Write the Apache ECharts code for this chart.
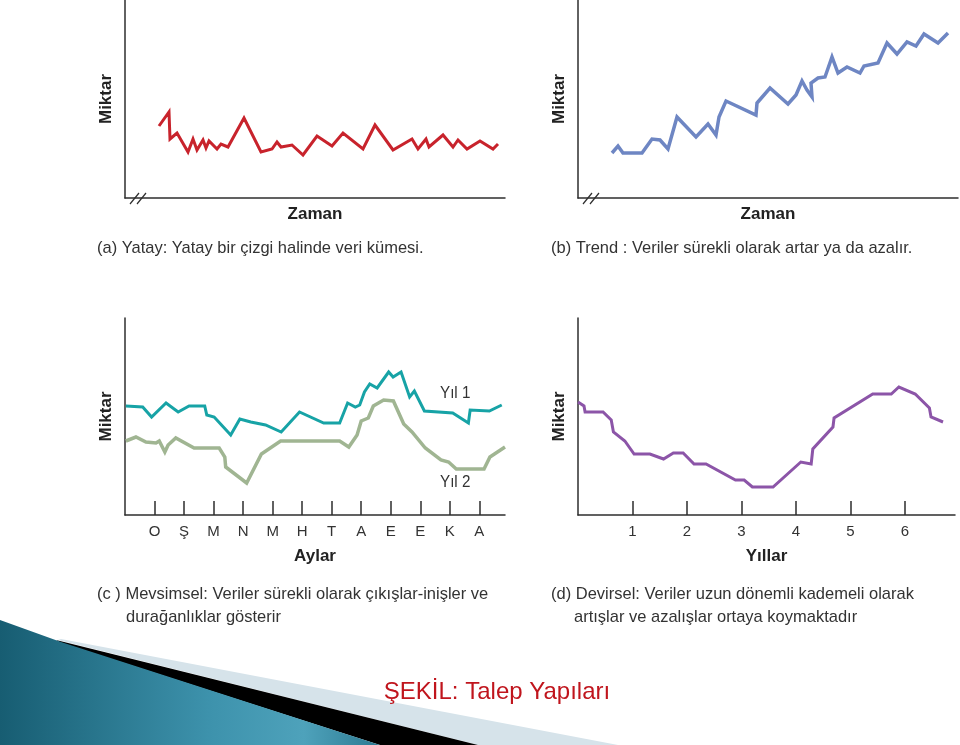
<!DOCTYPE html>
<html>
<head>
<meta charset="utf-8">
<script src="https://cdn.jsdelivr.net/npm/echarts@6/dist/echarts.min.js"></script>
<style>
html,body{margin:0;padding:0;background:#fff;}
#chart{width:960px;height:745px;}
</style>
</head>
<body>
<div id="chart"></div>
<script>
// ---- DATA ----
// (a) Yatay: [zaman, miktar]
const yatayData = [[34,72],[44,86],[45,59],[52,65],[63,46],[68,59],[72,48],[78,58],[81,50],[84,57],[92,49],[96,54],[103,51],[119,80],[136,46],[147,49],[152,56],[156,51],[167,53],[178,43],[192,62],[207,52],[218,65],[238,49],[250,73],[268,48],[287,59],[293,49],[301,59],[304,51],[318,63],[328,51],[333,58],[342,49],[355,57],[368,49],[373,54]];
// (b) Trend: [zaman, miktar]
const trendData = [[34,45],[40,52],[45,45],[64,45],[74,59],[82,58],[90,49],[99,81],[118,61],[130,74],[138,63],[141,81],[148,97],[178,83],[179,95],[192,110],[210,94],[218,103],[224,117],[229,108],[234,101],[233,115],[240,120],[247,121],[254,141],[260,125],[269,131],[282,125],[286,132],[300,135],[309,155],[319,144],[329,156],[338,152],[346,164],[360,155],[370,165]];
// (c) Mevsimsel: [ay, miktar]
const yil1Data = [[0.03,109],[0.60,108],[0.90,98],[1.39,112],[1.80,103],[2.17,109],[2.70,109],[2.77,100],[3.02,98],[3.58,80],[3.89,96],[4.26,93],[4.76,90],[5.29,83],[5.91,103],[6.73,92],[7.27,92],[7.54,112],[7.80,108],[7.95,110],[8.11,123],[8.29,131],[8.54,127],[8.93,143],[9.08,138],[9.35,143],[9.64,118],[9.80,124],[10.14,104],[11.10,102],[11.63,92],[11.69,105],[12.34,104],[12.76,110]];
const yil2Data = [[0.03,74],[0.37,78],[0.71,73],[1.05,72],[1.16,74],[1.35,63],[1.46,70],[1.72,77],[2.34,67],[3.19,67],[3.38,58],[3.41,48],[4.12,32],[4.62,61],[5.27,74],[7.27,74],[7.58,68],[7.86,80],[8.00,94],[8.24,97],[8.41,109],[8.76,115],[9.09,114],[9.44,91],[9.72,83],[10.17,67],[10.70,55],[10.96,53],[11.22,46],[12.16,46],[12.36,58],[12.87,68]];
const ayLabels = ['O','Ş','M','N','M','H','T','A','E','E','K','A'];
// (d) Devirsel: [yıl, miktar]
const devirselData = [[0.00,113],[0.11,109],[0.13,103],[0.46,103],[0.61,95],[0.65,83],[0.86,74],[1.03,61],[1.32,61],[1.57,56],[1.75,62],[1.93,62],[2.13,51],[2.35,51],[2.89,35],[3.05,35],[3.20,28],[3.58,28],[4.09,53],[4.28,51],[4.31,66],[4.68,88],[4.70,97],[5.41,121],[5.75,121],[5.89,128],[6.19,121],[6.45,107],[6.48,98],[6.70,93]];
const yilLabels = ['1','2','3','4','5','6'];

// ---- STYLES ----
const AXIS_COLOR = '#2e2e2e';
const TXT = '#333333';
const FONT = '"Liberation Sans", Arial, sans-serif';

function xAx(gi, max, name, gap, labels) {
  const ax = {
    gridIndex: gi, type: 'value', min: 0, max: max,
    splitLine: {show: false},
    axisLine: {show: true, onZero: false, lineStyle: {color: AXIS_COLOR, width: 1.5}},
    axisTick: {show: false},
    axisLabel: {show: false},
    name: name, nameLocation: 'middle', nameGap: gap,
    nameTextStyle: {fontFamily: FONT, fontWeight: 'bold', fontSize: 17, color: '#222'}
  };
  if (labels) {
    const vals = labels.map((_, i) => i + 1);
    ax.axisTick = {show: true, inside: true, length: 14, customValues: vals, lineStyle: {color: AXIS_COLOR, width: 1.5}};
    ax.axisLabel = {show: true, customValues: vals, margin: 9, fontFamily: FONT, fontSize: 15, color: TXT,
      formatter: v => labels[Math.round(v) - 1] || ''};
  }
  return ax;
}
function yAx(gi, max) {
  return {
    gridIndex: gi, type: 'value', min: 0, max: max,
    splitLine: {show: false},
    axisLine: {show: true, lineStyle: {color: AXIS_COLOR, width: 1.5}},
    axisTick: {show: false}, axisLabel: {show: false},
    name: 'Miktar', nameLocation: 'middle', nameGap: 10, nameRotate: 90,
    nameTextStyle: {fontFamily: FONT, fontWeight: 'bold', fontSize: 17, color: '#222', verticalAlign: 'bottom'}
  };
}
function lineSeries(i, data, color, w) {
  return {type: 'line', xAxisIndex: i, yAxisIndex: i, data: data, showSymbol: false, symbol: 'none',
    lineStyle: {color: color, width: w, join: 'miter'}, animation: false, silent: true};
}
function txt(text, x, y, size, opts) {
  opts = opts || {};
  return {type: 'text', x: x, y: y, scaleX: opts.sx || 1, z: 50, silent: true,
    style: {text: text, x: 0, y: 0, fill: opts.color || TXT, fontFamily: FONT, fontSize: size,
      fontWeight: opts.bold ? 'bold' : 'normal', verticalAlign: 'middle', align: opts.align || 'left'}};
}
function brk(x) {
  return [
    {type: 'line', z: 40, shape: {x1: x, y1: 204, x2: x + 9, y2: 193}, style: {stroke: AXIS_COLOR, lineWidth: 1.2}},
    {type: 'line', z: 40, shape: {x1: x + 7, y1: 204, x2: x + 16, y2: 193}, style: {stroke: AXIS_COLOR, lineWidth: 1.2}}
  ];
}

const chart = echarts.init(document.getElementById('chart'), null, {renderer: 'canvas'});
chart.setOption({
  backgroundColor: '#ffffff',
  animation: false,
  grid: [
    {left: 125, top: 0, width: 380, height: 198},
    {left: 578, top: 0, width: 380, height: 198},
    {left: 125, top: 318, width: 380, height: 197},
    {left: 578, top: 318, width: 377, height: 197}
  ],
  xAxis: [
    xAx(0, 380, 'Zaman', 8),
    xAx(1, 380, 'Zaman', 8),
    xAx(2, 12.87, 'Aylar', 33, ayLabels),
    xAx(3, 6.92, 'Yıllar', 33, yilLabels)
  ],
  yAxis: [yAx(0, 198), yAx(1, 198), yAx(2, 197), yAx(3, 197)],
  series: [
    lineSeries(0, yatayData, '#c8232c', 3),
    lineSeries(1, trendData, '#6e86c3', 3.5),
    lineSeries(2, yil1Data, '#17a3a6', 3),
    lineSeries(2, yil2Data, '#a0b592', 3.5),
    lineSeries(3, devirselData, '#8c55a8', 3)
  ],
  graphic: [
    // decorative swoosh (bottom-left)
    {type: 'polygon', z: 1, silent: true, shape: {points: [[61,639],[618,745],[478,745],[58,640]]}, style: {fill: '#d6e3ea'}},
    {type: 'polygon', z: 2, silent: true, shape: {points: [[56,640],[478,745],[380,745],[61,643]]}, style: {fill: '#000000'}},
    {type: 'polygon', z: 3, silent: true, shape: {points: [[0,620],[61,642],[380,745],[0,745]]},
      style: {fill: new echarts.graphic.LinearGradient(0, 0, 1, 0, [
        {offset: 0, color: '#175d72'}, {offset: 0.55, color: '#3d92ac'}, {offset: 0.8, color: '#4ea2bb'}, {offset: 1, color: '#2c7a92'}])}},
    ...brk(130), ...brk(583),
    txt('(a) Yatay: Yatay bir çizgi halinde veri kümesi.', 97, 248, 17, {sx: 0.97}),
    txt('(b) Trend : Veriler sürekli olarak artar ya da azalır.', 551, 248, 17, {sx: 0.97}),
    txt('(c ) Mevsimsel: Veriler sürekli olarak çıkışlar-inişler ve', 97, 594, 17, {sx: 0.97}),
    txt('durağanlıklar gösterir', 126, 617, 17, {sx: 0.97}),
    txt('(d) Devirsel: Veriler uzun dönemli kademeli olarak', 551, 594, 17, {sx: 0.97}),
    txt('artışlar ve azalışlar ortaya koymaktadır', 574, 617, 17, {sx: 0.97}),
    txt('Yıl 1', 440, 394, 16, {sx: 0.95}),
    txt('Yıl 2', 440, 483, 16, {sx: 0.95}),
    txt('ŞEKİL: Talep Yapıları', 497, 692, 24, {align: 'center', color: '#c0151d'})
  ]
});
</script>
</body>
</html>
